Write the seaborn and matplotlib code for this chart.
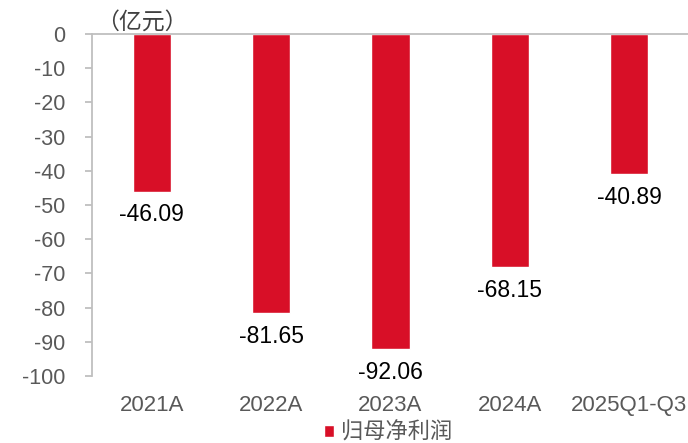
import matplotlib
matplotlib.use("Agg")
import matplotlib.pyplot as plt
import seaborn as sns
import pandas as pd

# Net profit attributable to parent (100 million yuan)
periods = ["2021A", "2022A", "2023A", "2024A", "2025Q1-Q3"]
net_profit = [-46.09, -81.65, -92.06, -68.15, -40.89]
series_name = "归母净利润"
unit_label = "（亿元）"

sns.set_theme(style="white")
plt.rcParams["font.family"] = ["Liberation Sans", "Noto Sans CJK SC", "DejaVu Sans"]
plt.rcParams["axes.unicode_minus"] = False

bar_color = "#D80F27"
axis_gray = "#BFBFBF"
text_gray = "#595959"

df = pd.DataFrame({"period": periods, "value": net_profit})

fig = plt.figure(figsize=(6.88, 4.43), dpi=100)
ax = fig.add_axes([92 / 688, 1 - 376 / 443, 597 / 688, (376 - 34) / 443])

sns.barplot(data=df, x="period", y="value", color=bar_color, width=0.32,
            saturation=1, label=series_name, legend=False, ax=ax)

ax.set_ylim(-100, 0)
ax.set_xlim(-0.5, 4.5)
ax.set_yticks(range(-100, 1, 10))
ax.set_xlabel("")
ax.set_ylabel("")

for side in ["right", "bottom"]:
    ax.spines[side].set_visible(False)
for side in ["left", "top"]:
    ax.spines[side].set_color(axis_gray)
    ax.spines[side].set_linewidth(1.3)

ax.tick_params(axis="y", which="both", left=True, length=5, width=1.3,
               color=axis_gray, labelsize=15.5, labelcolor=text_gray, pad=14)
ax.tick_params(axis="x", bottom=False, top=False, labelsize=16,
               labelcolor=text_gray, pad=8)

for container in ax.containers:
    ax.bar_label(container, fmt="%.2f", padding=8.5, fontsize=16.5, color="black")

ax.text(-0.47, 1.0, unit_label, transform=ax.get_xaxis_transform(),
        ha="left", va="bottom", fontsize=16.5, color="#404040")

if ax.get_legend() is not None:
    ax.get_legend().remove()
handles = [ax.containers[0]]
fig.legend(handles, [series_name], loc="center", bbox_to_anchor=(388 / 688, 1 - 433 / 443),
           frameon=False, fontsize=16, handlelength=0.45, handleheight=0.45,
           handletextpad=0.3, labelcolor=text_gray, borderpad=0)

fig.savefig("out.png", dpi=100)
